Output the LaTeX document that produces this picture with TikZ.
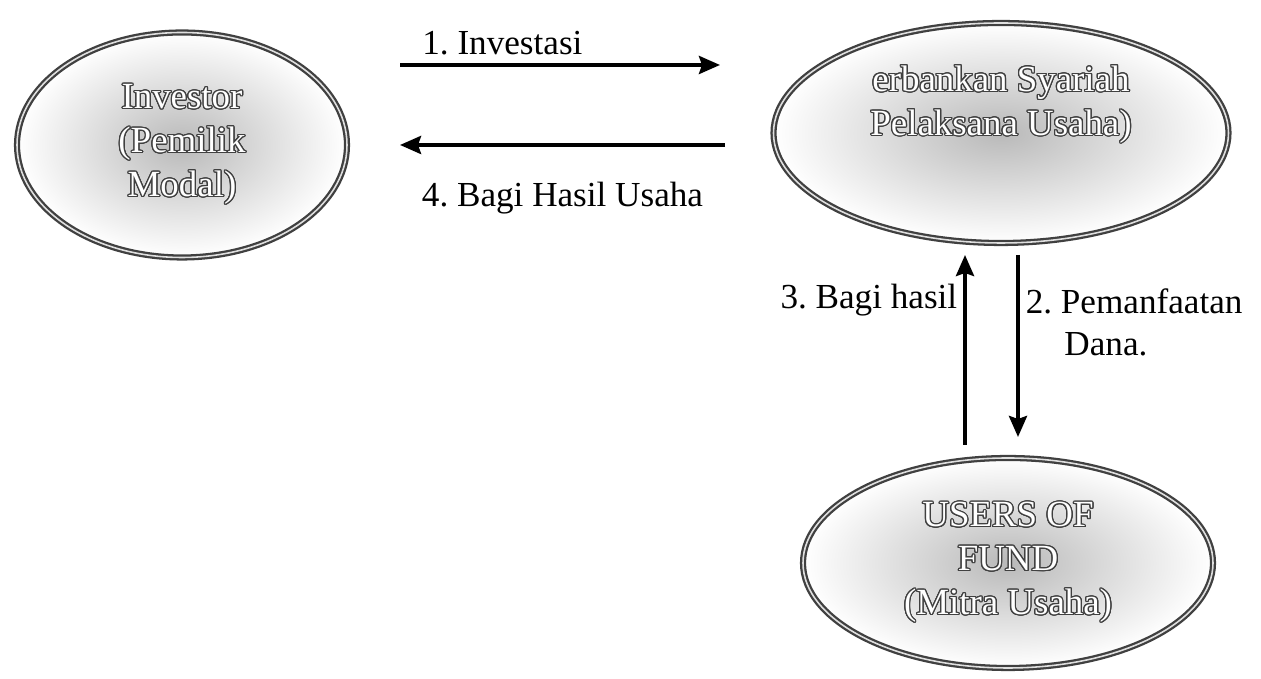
\documentclass[tikz,border=0pt]{standalone}
\usepackage{fontspec}
\setmainfont{Liberation Serif}
\usepackage{contour}
\contourlength{0.7pt}
\contournumber{20}
\usetikzlibrary{shapes.geometric,arrows.meta,shadows}
\frenchspacing

\newcommand{\hollow}[1]{\contour{black!75}{#1}}

\begin{document}
\begin{tikzpicture}[
    party/.style={
        ellipse,
        draw=black!75,
        line width=1.3pt,
        double=gray!25,
        double distance=0.9pt,
        inner color=gray!55,
        outer color=white,
        text=white,
        align=center,
        inner sep=0pt,
        font=\rmfamily\fontsize{21}{25}\selectfont,
        drop shadow={opacity=0.35, shadow xshift=0.6pt, shadow yshift=-0.6pt}
    },
    arrow/.style={
        -{Stealth[length=0.42cm, width=0.36cm, inset=0.06cm]},
        line width=2.2pt
    },
    tag/.style={
        font=\rmfamily\fontsize{20}{24}\selectfont
    }
]
\useasboundingbox (0,0) rectangle (25.22,13.58);

% Nodes
\node [party, minimum width=6.6cm, minimum height=4.5cm] (investor) at (3.64,10.68)
    {\hollow{Investor}\\\hollow{(Pemilik}\\\hollow{Modal)}};
\node [party, minimum width=9.1cm, minimum height=4.4cm, text depth=1.3cm] (bank) at (20.02,10.92)
    {\hollow{erbankan Syariah}\\\hollow{Pelaksana Usaha)}};
\node [party, minimum width=8.2cm, minimum height=4.2cm] (users) at (20.16,2.32)
    {\hollow{USERS OF}\\\hollow{FUND}\\\hollow{(Mitra Usaha)}};

% Arrow ends
\coordinate (inv1) at (8.0,12.28);
\coordinate (bank1) at (14.4,12.28);
\coordinate (bank4) at (14.5,10.68);
\coordinate (inv4) at (8.0,10.68);
\coordinate (users3) at (19.3,4.68);
\coordinate (bank3) at (19.3,8.48);
\coordinate (bank2) at (20.36,8.48);
\coordinate (users2) at (20.36,4.84);

% Arrows
\draw [arrow] (inv1) -- node[above=1pt, pos=0.32, tag] {1. Investasi} (bank1);
\draw [arrow] (bank4) -- node[below=0.58cm, tag] {4. Bagi Hasil Usaha} (inv4);
\draw [arrow] (users3) -- node[left, pos=0.76, tag] {3. Bagi hasil} (bank3);
\draw [arrow] (bank2) -- node[right, pos=0.37, tag, align=left] {2. Pemanfaatan\\\hspace*{1.1em}Dana.} (users2);

\end{tikzpicture}
\end{document}
